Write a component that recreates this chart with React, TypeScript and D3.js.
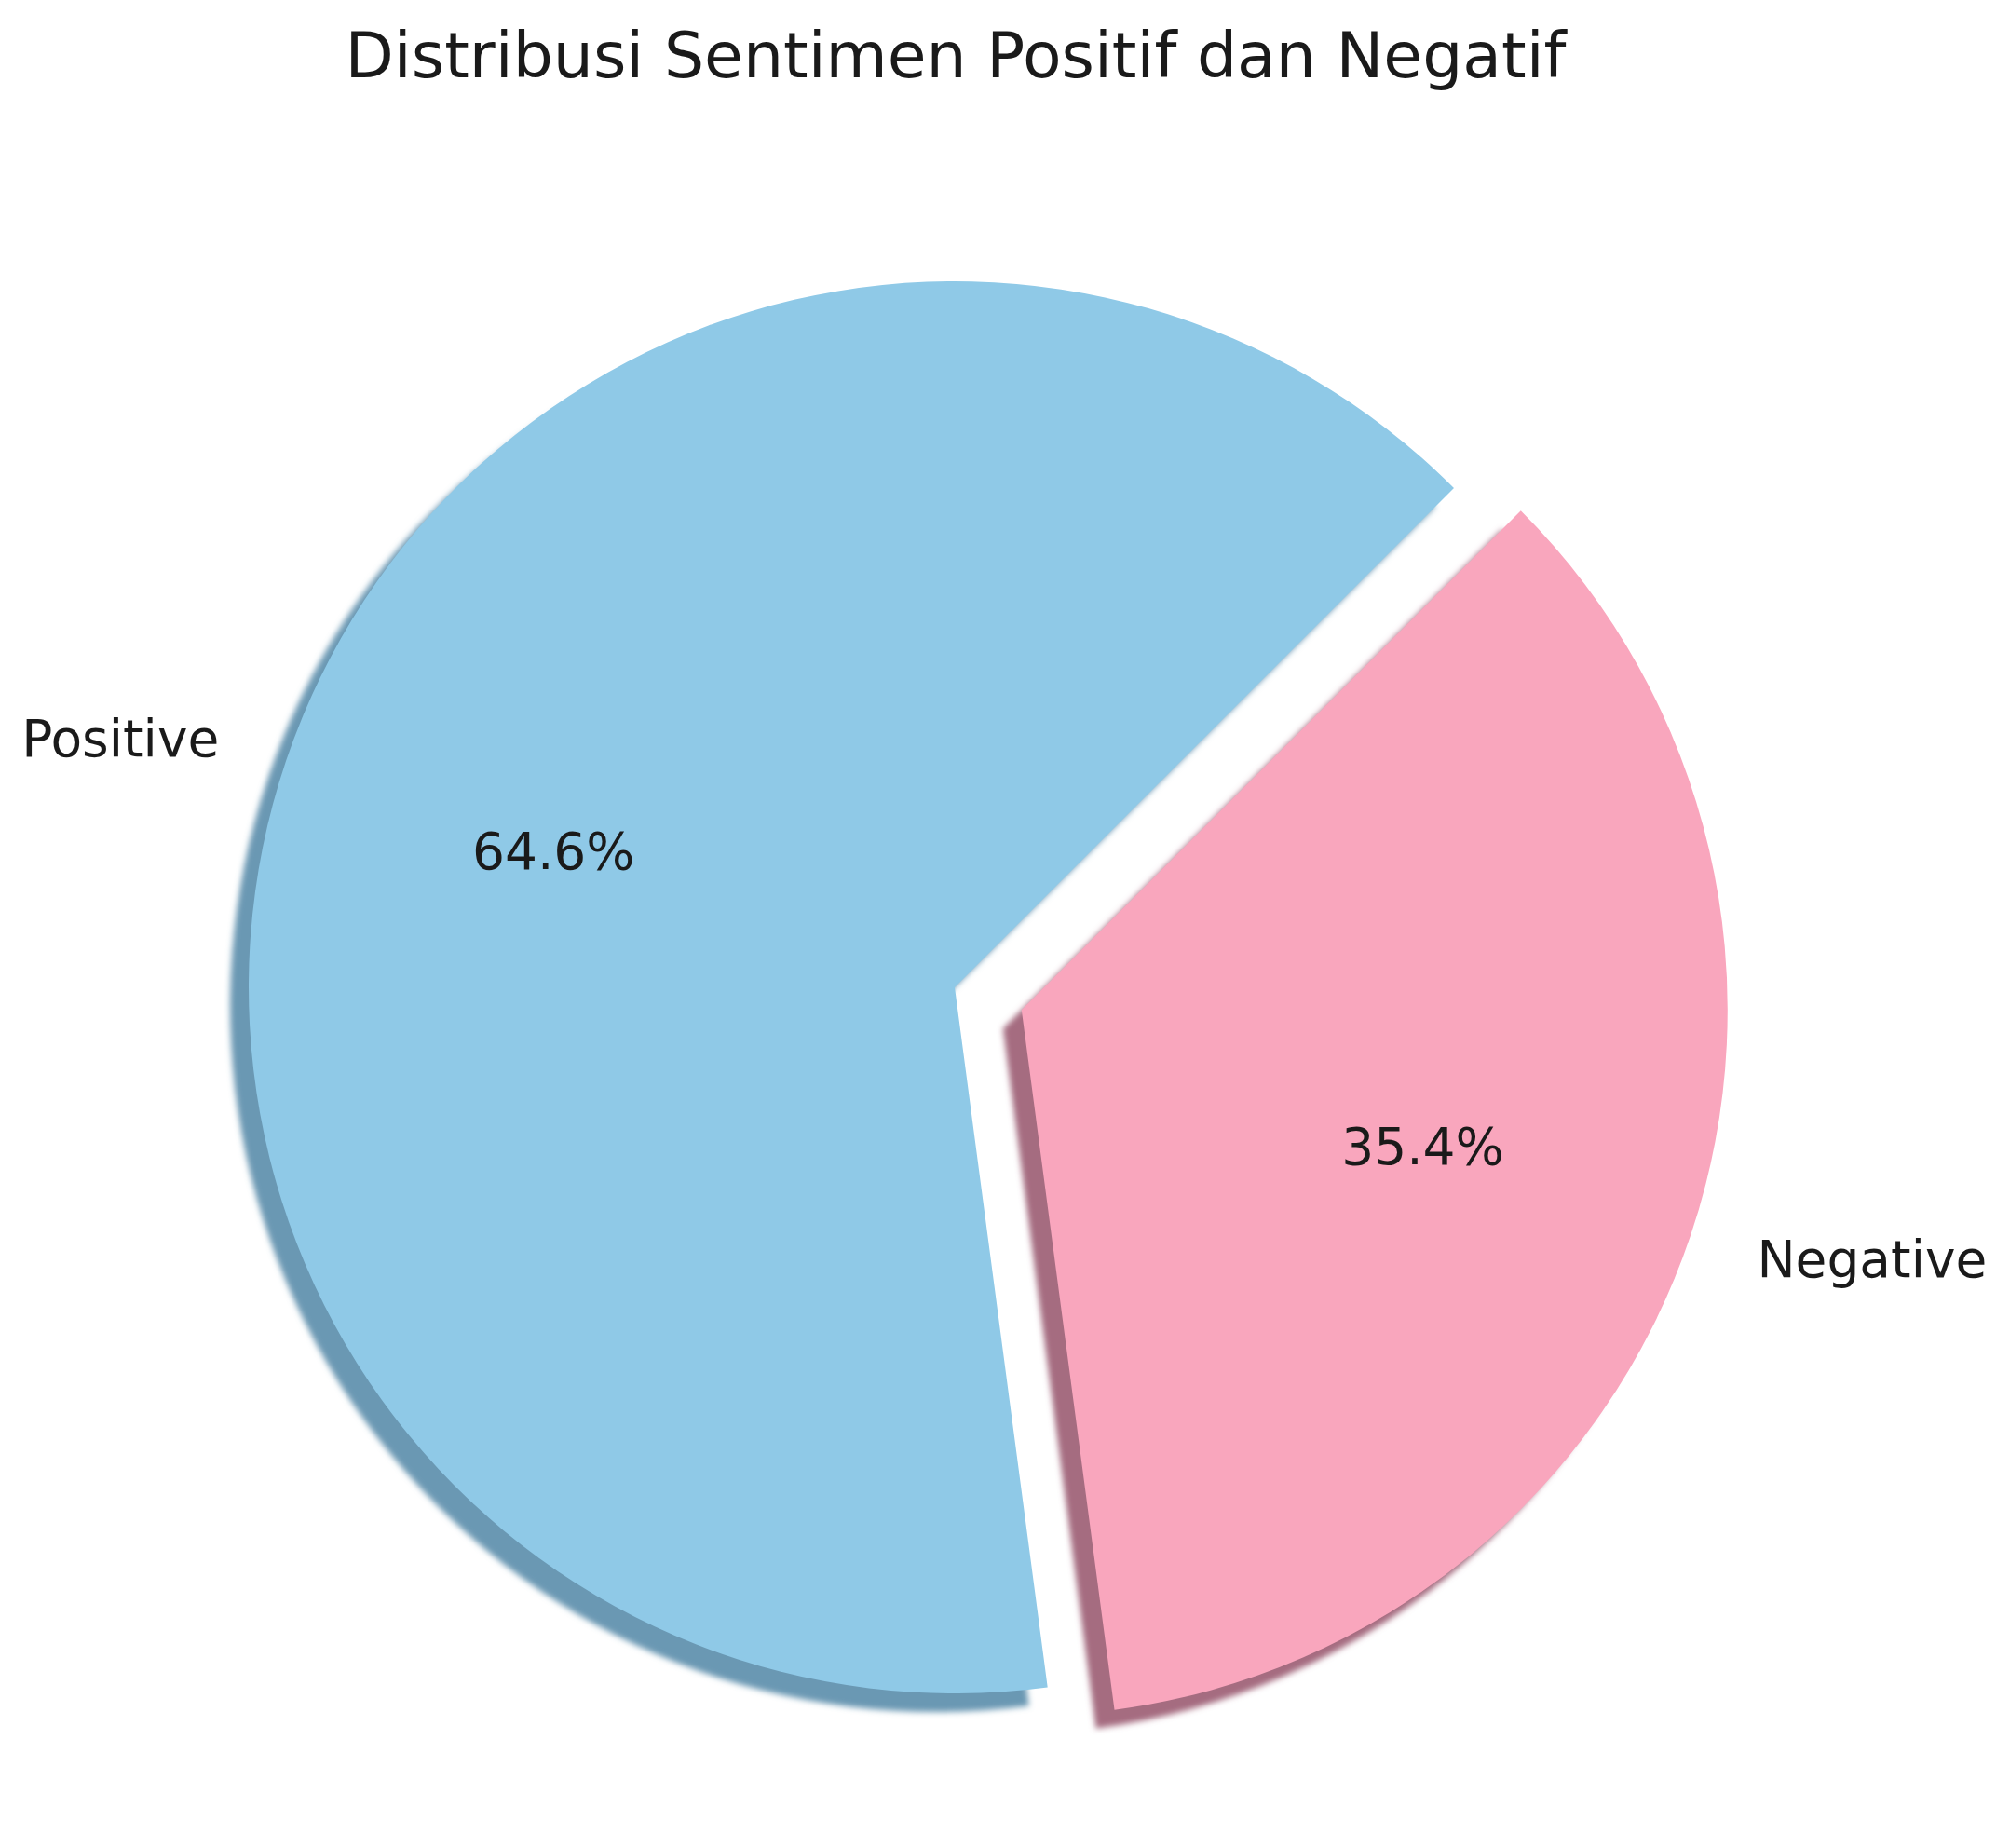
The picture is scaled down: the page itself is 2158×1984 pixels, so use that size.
import React from "react";
import * as d3 from "d3";

const labels = ["Positive", "Negative"];
const values = [64.6, 35.4];
const explode = [0, 0.1];
const colors = ["#8fc9e7", "#f9a6bd"];
const shadowColors = ["#6a98b3", "#a56c80"];

const W = 2158;
const H = 1984;
const cx = 1025;
const cy = 1060;
const r = 758;
const startDeg = 45; // matplotlib startangle, counter-clockwise

export default function App() {
  // d3 angles: 0 at 12 o'clock, clockwise -> math angle 45 = d3 angle 45deg, going ccw
  const a0 = ((90 - startDeg) * Math.PI) / 180;
  const pie = d3
    .pie<number>()
    .sort(null)
    .value((d) => d)
    .startAngle(a0)
    .endAngle(a0 - 2 * Math.PI);
  const arcs = pie(values);
  const arc = d3.arc<d3.PieArcDatum<number>>().innerRadius(0).outerRadius(r);

  const fmt = d3.format(".1f");
  const total = d3.sum(values);

  const slices = arcs.map((d, i) => {
    const mid = (d.startAngle + d.endAngle) / 2;
    const dx = Math.sin(mid);
    const dy = -Math.cos(mid);
    const ox = cx + explode[i] * r * dx;
    const oy = cy + explode[i] * r * dy;
    return { d, i, dx, dy, ox, oy };
  });

  return (
    <svg
      width={W}
      height={H}
      style={{ position: "absolute", left: 0, top: 0, background: "#ffffff" }}
      fontFamily="DejaVu Sans, sans-serif"
    >
      <defs>
        <filter id="soft" x="-10%" y="-10%" width="120%" height="120%">
          <feGaussianBlur stdDeviation="3" />
        </filter>
      </defs>
      <text
        x={1026}
        y={83}
        textAnchor="middle"
        fontSize={68}
        fill="#1a1a1a"
      >
        Distribusi Sentimen Positif dan Negatif
      </text>

      {/* shadows */}
      {slices.map((s) => (
        <path
          key={"sh" + s.i}
          d={arc(s.d) || ""}
          transform={`translate(${s.ox - 20},${s.oy + 20})`}
          fill={shadowColors[s.i]}
          filter="url(#soft)"
        />
      ))}

      {/* wedges */}
      {slices.map((s) => (
        <path
          key={"w" + s.i}
          d={arc(s.d) || ""}
          transform={`translate(${s.ox},${s.oy})`}
          fill={colors[s.i]}
        />
      ))}

      {/* labels */}
      {slices.map((s) => {
        const lx = s.ox + 1.1 * r * s.dx;
        const ly = s.oy + 1.1 * r * s.dy;
        return (
          <text
            key={"l" + s.i}
            x={lx}
            y={ly}
            dy="0.35em"
            textAnchor={s.dx < 0 ? "end" : "start"}
            fontSize={55}
            fill="#1a1a1a"
          >
            {labels[s.i]}
          </text>
        );
      })}

      {/* percentages */}
      {slices.map((s) => {
        const px = s.ox + 0.6 * r * s.dx;
        const py = s.oy + 0.6 * r * s.dy;
        return (
          <text
            key={"p" + s.i}
            x={px}
            y={py}
            dy="0.35em"
            textAnchor="middle"
            fontSize={55}
            fill="#1a1a1a"
          >
            {fmt((values[s.i] / total) * 100) + "%"}
          </text>
        );
      })}
    </svg>
  );
}
